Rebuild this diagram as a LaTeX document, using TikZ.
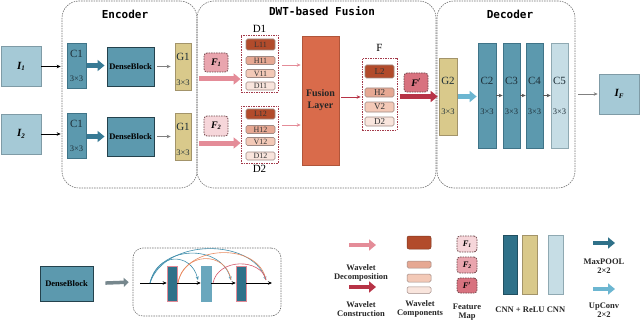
\documentclass[tikz,border=0pt]{standalone}
\usepackage{fontspec}
\setmainfont{Liberation Serif}
\newfontfamily\titlefont{DejaVu Sans Mono}
\usetikzlibrary{arrows.meta}
\newcommand\myfs[1]{\fontsize{#1}{#1}\selectfont}
\definecolor{ifill}{HTML}{A5C9D6}
\definecolor{iline}{HTML}{7F9BA6}
\definecolor{cfill}{HTML}{5C99AE}
\definecolor{cline}{HTML}{3F7488}
\definecolor{dbline}{HTML}{24424D}
\definecolor{gfill}{HTML}{D9C98B}
\definecolor{gline}{HTML}{A3946A}
\definecolor{lfill}{HTML}{C6DDE5}
\definecolor{lline}{HTML}{8FA9B2}
\definecolor{fusfill}{HTML}{D96B4B}
\definecolor{fusline}{HTML}{B0553A}
\definecolor{Lc}{HTML}{B24B2B}
\definecolor{Hc}{HTML}{E6A893}
\definecolor{Vc}{HTML}{F3C9B7}
\definecolor{Dc}{HTML}{F9E5DD}
\definecolor{compline}{HTML}{A08A84}
\definecolor{grpline}{HTML}{A33A4A}
\definecolor{fa}{HTML}{E9A5AE}
\definecolor{fb}{HTML}{F6D6DA}
\definecolor{fp}{HTML}{D8727F}
\definecolor{fline}{HTML}{6D4448}
\definecolor{pinkarr}{HTML}{E48C98}
\definecolor{redarr}{HTML}{B73346}
\definecolor{tealarr}{HTML}{377A95}
\definecolor{lbarr}{HTML}{6CB6D1}
\definecolor{darkteal}{HTML}{2F7189}
\definecolor{midteal}{HTML}{6AA7BD}
\definecolor{grayarr}{HTML}{76878D}
\definecolor{txtdark}{HTML}{1E2F38}
\definecolor{arcblue}{HTML}{3F8DAB}
\definecolor{arcorange}{HTML}{E88A60}
\definecolor{arcred}{HTML}{D4586A}
\definecolor{grpgray}{HTML}{707070}
\begin{document}
\begin{tikzpicture}[x=1pt,y=-1pt,
  group/.style={draw=grpgray, dashed, dash pattern=on 1.5pt off 1pt, line width=0.6pt, rounded corners=17pt, inner sep=0pt},
  title/.style={font=\titlefont\bfseries\myfs{11}, text=black, inner sep=0pt},
  box/.style={inner sep=0pt, line width=0.7pt},
  ibox/.style={box, fill=ifill, draw=iline, minimum width=40, minimum height=40},
  cbox/.style={box, fill=cfill, draw=cline},
  gbox/.style={box, fill=gfill, draw=gline},
  lbox/.style={box, fill=lfill, draw=lline},
  dbbox/.style={box, fill=cfill, draw=dbline, line width=0.9pt, font=\bfseries\myfs{8.5}, text=black},
  comp/.style={box, draw=compline, line width=0.6pt, rounded corners=1.5pt, minimum width=29, font=\myfs{8}, text=black!80},
  grp/.style={box, draw=grpline, dashed, dash pattern=on 1.5pt off 1pt, line width=0.8pt},
  fmap/.style={box, draw=fline, dashed, dash pattern=on 1.5pt off 1pt, line width=0.8pt, rounded corners=3pt, font=\bfseries\itshape\myfs{10}, text=black},
  big/.style={inner sep=0pt, font=\myfs{11}, text=txtdark},
  small/.style={inner sep=0pt, font=\myfs{8.5}, text=txtdark},
  lab/.style={inner sep=0pt, font=\myfs{11}, text=black},
  leg/.style={inner sep=0pt, font=\bfseries\myfs{8.5}, align=center, text=black!85},
  thin/.style={line width=0.6pt, -{Stealth[length=4pt,width=3.5pt]}},
  fat/.style={line width=5pt, -{Triangle[length=7pt,width=11pt]}},
]
\useasboundingbox (0,0) rectangle (640,321);

% ---------- group boxes
\node[group, minimum width=135, minimum height=187] (enc) at (129.5,94.5) {};
\node[group, minimum width=239, minimum height=187] (fus) at (316.5,94.5) {};
\node[group, minimum width=138, minimum height=187] (dec) at (506,94.5) {};
\node[title] (enct) at (125,14) {Encoder};
\node[title] (fust) at (322,11) {DWT-based Fusion};
\node[title] (dect) at (510,14) {Decoder};

% ---------- inputs
\node[ibox, font=\bfseries\itshape\myfs{11}] (I1) at (21,66.5) {I\raisebox{-1.5pt}{\myfs{7}1}};
\node[ibox, font=\bfseries\itshape\myfs{11}] (I2) at (21,134) {I\raisebox{-1.5pt}{\myfs{7}2}};

% ---------- encoder
\node[cbox, minimum width=19, minimum height=45] (C1a) at (76.5,65.5) {};
\node[cbox, minimum width=19, minimum height=45] (C1b) at (76.5,135.5) {};
\node[big] (C1at) at (76.5,54) {C1};
\node[small] (C1as) at (76.5,79) {3×3};
\node[big] (C1bt) at (76.5,124) {C1};
\node[small] (C1bs) at (76.5,149) {3×3};
\node[dbbox, minimum width=47, minimum height=39] (DB1) at (130.5,66.5) {DenseBlock};
\node[dbbox, minimum width=47, minimum height=39] (DB2) at (130.5,136.5) {DenseBlock};
\node[gbox, minimum width=16, minimum height=47] (G1a) at (183,66.5) {};
\node[gbox, minimum width=16, minimum height=47] (G1b) at (183,136.5) {};
\node[big] (G1at) at (183,57) {G1};
\node[small] (G1as) at (183,83) {3×3};
\node[big] (G1bt) at (183,127) {G1};
\node[small] (G1bs) at (183,153) {3×3};

\draw[thin, black, shorten >=6pt] (I1.east) -- (I1.east -| C1a.west);
\draw[thin, black, shorten >=6pt] (I2.east) -- (I2.east -| C1b.west);
\draw[fat, tealarr, line width=4.5pt, shorten <=1pt, shorten >=2pt] (C1a.east) -- (C1a.east -| DB1.west);
\draw[fat, tealarr, line width=4.5pt, shorten <=1pt, shorten >=2pt] (C1b.east |- DB2.west) -- (DB2.west);
\draw[thin, gray, shorten <=3pt, shorten >=4pt] (DB1.east) -- (DB1.east -| G1a.west);
\draw[thin, gray, shorten <=3pt, shorten >=4pt] (DB2.east) -- (DB2.east -| G1b.west);

% ---------- fusion
\node[fmap, fill=fa, minimum width=24, minimum height=19] (F1) at (216,62.5) {F\raisebox{-1pt}{\myfs{6.5}1}};
\node[fmap, fill=fb, minimum width=24, minimum height=20] (F2) at (216,126) {F\raisebox{-1pt}{\myfs{6.5}2}};

\node[grp, minimum width=37, minimum height=57] (D1) at (259.5,63.5) {};
\node[grp, minimum width=37, minimum height=57] (D2) at (259.5,134.5) {};
\node[lab] (D1t) at (259.5,29) {D1};
\node[lab] (D2t) at (259.5,169) {D2};
\node[comp, fill=Lc, minimum height=11] (L11) at (260.5,44.5) {L11};
\node[comp, fill=Hc, minimum height=8] (H11) at (260.5,60.5) {H11};
\node[comp, fill=Vc, minimum height=8] (V11) at (260.5,73.5) {V11};
\node[comp, fill=Dc, minimum height=8] (D11) at (260.5,86) {D11};
\node[comp, fill=Lc, minimum height=10] (L12) at (260.5,114) {L12};
\node[comp, fill=Hc, minimum height=8] (H12) at (260.5,129.5) {H12};
\node[comp, fill=Vc, minimum height=8] (V12) at (260.5,141.5) {V12};
\node[comp, fill=Dc, minimum height=8] (D12) at (260.5,156) {D12};

\coordinate (pa1) at (199,79);
\coordinate (pa2) at (199,143);
\draw[fat, pinkarr] (pa1) -- (pa1 -| D1.west);
\draw[fat, pinkarr] (pa2) -- (pa2 -| D2.west);

\node[box, fill=fusfill, draw=fusline, minimum width=37, minimum height=129, font=\bfseries\myfs{10}, align=center, text=black!85] (FL) at (320.5,100.5) {Fusion\\[2pt]Layer};
\draw[thin, pinkarr, shorten <=4pt, shorten >=1pt] ([yshift=-1.5pt]D1.east) -- ([yshift=-1.5pt]D1.east -| FL.west);
\draw[thin, pinkarr, shorten <=4pt, shorten >=1pt] ([yshift=9.5pt]D2.east) -- ([yshift=9.5pt]D2.east -| FL.west);

\node[grp, minimum width=35, minimum height=72] (Fg) at (379.5,94) {};
\node[lab] (Fgt) at (379.5,48) {F};
\node[comp, fill=Lc, minimum height=13, font=\myfs{9}] (L2) at (379.5,71.5) {L2};
\node[comp, fill=Hc, minimum height=9, font=\myfs{9}] (H2) at (379.5,92.5) {H2};
\node[comp, fill=Vc, minimum height=10, font=\myfs{9}] (V2) at (379.5,107) {V2};
\node[comp, fill=Dc, minimum height=9, font=\myfs{9}] (D2c) at (379.5,121.5) {D2};
\draw[thin, redarr, shorten <=2pt, shorten >=1pt] ([yshift=-3pt]FL.east |- Fg.west) -- ([yshift=-3pt]Fg.west);

\node[fmap, fill=fp, minimum width=24, minimum height=19] (Fp) at (416,82.5) {F$^{\prime}$};

% ---------- decoder
\node[gbox, minimum width=18, minimum height=77] (G2) at (448,96.5) {};
\node[big] (G2t) at (448,81) {G2};
\node[small] (G2s) at (448,112) {3×3};
\draw[fat, redarr, shorten >=1pt] ([xshift=3pt]Fg.east |- G2.west) -- (G2.west);

\node[cbox, minimum width=18, minimum height=105] (C2) at (487,95.5) {};
\node[cbox, minimum width=17, minimum height=105] (C3) at (511.5,95.5) {};
\node[cbox, minimum width=17, minimum height=105] (C4) at (534.5,95.5) {};
\node[lbox, minimum width=17, minimum height=105] (C5) at (559.5,95.5) {};
\node[big] (C2t) at (487,81) {C2};
\node[big] (C3t) at (511.5,81) {C3};
\node[big] (C4t) at (534.5,81) {C4};
\node[big] (C5t) at (559.5,81) {C5};
\node[small] (C2s) at (487,112) {3×3};
\node[small] (C3s) at (511.5,112) {3×3};
\node[small] (C4s) at (534.5,112) {3×3};
\node[small] (C5s) at (559.5,112) {3×3};

\draw[fat, lbarr, line width=4.5pt, shorten <=1pt, shorten >=1pt] (G2.east) -- (G2.east -| C2.west);
\draw[thin, gray!70!black, line width=0.5pt] (C2.east) -- (C3.west);
\draw[thin, gray!70!black, line width=0.5pt] (C3.east) -- (C4.west);
\draw[thin, gray!70!black, line width=0.5pt] (C4.east) -- (C5.west);

\node[ibox, font=\bfseries\itshape\myfs{11}] (IF) at (619,94) {I\raisebox{-1.5pt}{\myfs{7}F}};
\draw[thin, gray, shorten <=10pt, shorten >=1pt] (C5.east |- IF.west) -- (IF.west);

% ---------- legend: dense block
\node[dbbox, minimum width=53, minimum height=35] (DBL) at (66.5,283.5) {DenseBlock};
\node[group, rounded corners=10pt, minimum width=148, minimum height=68] (DBx) at (207,282) {};
\draw[line width=3.5pt, draw=grayarr, -{Triangle[length=5pt,width=9pt]}, shorten <=12pt, shorten >=4pt] (DBL.east) -- (DBx.west);

\node[box, fill=darkteal, draw=arcred!70, line width=0.5pt, minimum width=10, minimum height=35] (b1) at (172,283.5) {};
\node[box, fill=midteal, draw=midteal, line width=0.5pt, minimum width=10, minimum height=35] (b2) at (206,283.5) {};
\node[box, fill=darkteal, draw=arcred!70, line width=0.5pt, minimum width=10, minimum height=35] (b3) at (241,283.5) {};
\coordinate (ls) at (140,283);
\coordinate (le) at (272,283);
\draw[thin, black, line width=0.7pt] (ls) -- (ls -| b1.west);
\draw[thin, black, line width=0.7pt] (b1.east |- ls) -- (ls -| b2.west);
\draw[thin, black, line width=0.7pt] (b2.east |- ls) -- (ls -| b3.west);
\draw[thin, black, line width=0.7pt] (b3.east |- ls) -- (le);

\coordinate (sb) at (150,283);
\coordinate (so) at (178,283);
\coordinate (sr) at (213,283);
\coordinate (e1) at (198,280);
\coordinate (e2) at (231,280);
\coordinate (e3) at (266,280);
\begin{scope}[line width=0.6pt]
\draw[arcblue, -{Stealth[length=3.5pt,width=3pt]}] (sb) .. controls (157,252) and (191,252) .. (e1);
\draw[arcblue, -{Stealth[length=3.5pt,width=3pt]}] (sb) .. controls (160,244) and (221,244) .. (e2);
\draw[arcblue, -{Stealth[length=3.5pt,width=3pt]}] (sb) .. controls (165,238) and (251,238) .. (e3);
\draw[arcorange] (so) .. controls (183,252) and (226,250) .. (e2);
\draw[arcorange] (so) .. controls (185,244) and (259,242) .. (e3);
\draw[arcred] (sr) .. controls (218,258) and (261,258) .. (e3);
\end{scope}

% ---------- legend: symbols
\coordinate (la1) at (349,245);
\coordinate (la1e) at (376,245);
\coordinate (la2) at (349,287);
\coordinate (la2e) at (376,287);
\draw[fat, pinkarr, line width=4.5pt] (la1) -- (la1e);
\draw[fat, redarr, line width=4.5pt] (la2) -- (la2e);
\node[leg] (lt1) at (361,273) {Wavelet\\[1pt]Decomposition};
\node[leg] (lt2) at (361,309) {Wavelet\\[1pt]Construction};

\node[box, fill=Lc, draw=Lc!70!black, line width=0.5pt, rounded corners=2pt, minimum width=24, minimum height=13] (wc1) at (419,242.5) {};
\node[box, fill=Hc, draw=compline, line width=0.5pt, rounded corners=1.5pt, minimum width=24, minimum height=7] (wc2) at (419,264.5) {};
\node[box, fill=Vc, draw=compline, line width=0.5pt, rounded corners=1.5pt, minimum width=24, minimum height=8] (wc3) at (419,278) {};
\node[box, fill=Dc, draw=compline, line width=0.5pt, rounded corners=1.5pt, minimum width=24, minimum height=6.5] (wc4) at (419,290) {};
\node[leg] (lt3) at (420,309) {Wavelet\\[1pt]Components};

\node[fmap, fill=fb, minimum width=20, minimum height=16, font=\bfseries\itshape\myfs{8.5}] (lf1) at (467,244) {F\raisebox{-1pt}{\myfs{5.5}1}};
\node[fmap, fill=fa, minimum width=20, minimum height=16, font=\bfseries\itshape\myfs{8.5}] (lf2) at (467,265) {F\raisebox{-1pt}{\myfs{5.5}2}};
\node[fmap, fill=fp, minimum width=20, minimum height=15, font=\bfseries\itshape\myfs{8.5}] (lf3) at (467,285.5) {F$^{\prime}$};
\node[leg] (lt4) at (467,312) {Feature\\[1pt]Map};

\node[box, fill=darkteal, draw=darkteal!70!black, line width=0.5pt, minimum width=14, minimum height=59] (lc1) at (510,264.5) {};
\node[box, fill=gfill, draw=gline, line width=0.5pt, minimum width=15, minimum height=59] (lc2) at (529.5,264.5) {};
\node[box, fill=lfill, draw=lline, line width=0.5pt, minimum width=15, minimum height=59] (lc3) at (555.5,264.5) {};
\node[leg] (lt5) at (520,310) {CNN + ReLU};
\node[leg] (lt6) at (556,310) {CNN};

\coordinate (lm1) at (593,243);
\coordinate (lm1e) at (615,243);
\coordinate (lm2) at (593,289);
\coordinate (lm2e) at (615,289);
\draw[fat, darkteal, line width=4.5pt] (lm1) -- (lm1e);
\draw[fat, lbarr, line width=4.5pt] (lm2) -- (lm2e);
\node[leg] (lt7) at (604,266) {MaxPOOL\\[1pt]2×2};
\node[leg] (lt8) at (604,310) {UpConv\\[1pt]2×2};
\end{tikzpicture}
\end{document}
